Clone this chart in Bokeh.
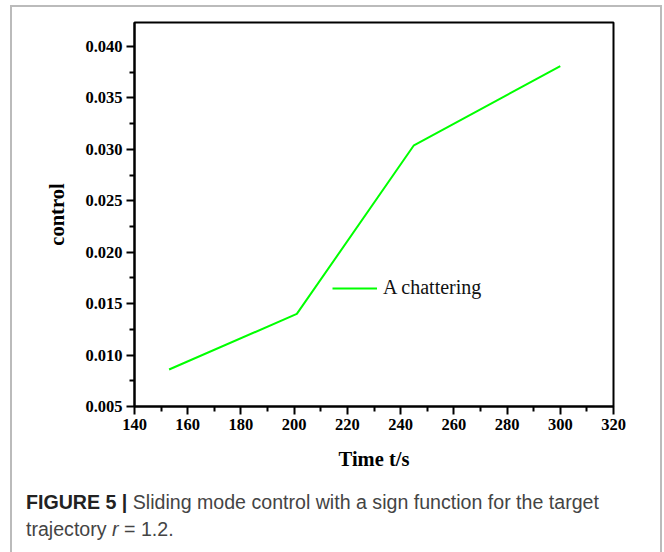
from bokeh.plotting import figure
from bokeh.models import (FixedTicker, PrintfTickFormatter, Legend, LegendItem,
                          Range1d, Div)
from bokeh.layouts import column
from bokeh.embed import file_html
from bokeh.resources import INLINE

# data
time_s = [153, 201, 245, 300]
control = [0.0086, 0.0140, 0.0304, 0.0381]
series_name = "A chattering"
x_ticks = [140, 160, 180, 200, 220, 240, 260, 280, 300, 320]
y_ticks = [0.005, 0.010, 0.015, 0.020, 0.025, 0.030, 0.035, 0.040]
caption_bold = "FIGURE 5 |"
caption_line1 = "Sliding mode control with a sign function for the target"
caption_line2 = ("trajectory", "r", "= 1.2.")

W, H_FIG, H_CAP = 664, 484, 68
p = figure(width=W, height=H_FIG, output_backend="svg", toolbar_location=None,
           x_range=Range1d(140, 320), y_range=Range1d(0.005, 0.04234),
           min_border_left=134, min_border_right=51, min_border_top=22,
           min_border_bottom=78)
p.grid.visible = False
p.background_fill_color = "white"
p.border_fill_color = None
p.outline_line_color = "black"
p.outline_line_width = 2

SERIF = "Liberation Serif"
for ax in (p.xaxis[0], p.yaxis[0]):
    ax.axis_line_color = "black"
    ax.axis_line_width = 2
    ax.major_tick_line_color = "black"
    ax.major_tick_line_width = 2
    ax.minor_tick_line_color = "black"
    ax.minor_tick_line_width = 2
    ax.major_tick_out = 8
    ax.major_tick_in = 0
    ax.minor_tick_out = 5
    ax.minor_tick_in = 0
    ax.major_label_text_font = SERIF
    ax.major_label_text_font_style = "bold"
    ax.major_label_text_font_size = "16.5px"
    ax.major_label_text_color = "black"
    ax.axis_label_text_font = SERIF
    ax.axis_label_text_font_style = "bold"
    ax.axis_label_text_font_size = "20.5px"
    ax.axis_label_text_color = "black"

p.xaxis.ticker = FixedTicker(ticks=x_ticks, minor_ticks=[v + 10 for v in x_ticks[:-1]])
p.yaxis.ticker = FixedTicker(ticks=y_ticks, minor_ticks=[v + 0.0025 for v in y_ticks])
p.yaxis.formatter = PrintfTickFormatter(format="%.3f")
p.xaxis.axis_label = "Time t/s"
p.yaxis.axis_label = "control"
p.xaxis.major_label_standoff = 4
p.yaxis.major_label_standoff = 4
p.xaxis.axis_label_standoff = 15
p.yaxis.axis_label_standoff = 14

r = p.line(time_s, control, line_color="#00FF00", line_width=2)

legend = Legend(items=[LegendItem(label=series_name, renderers=[r])],
                location=(198, 107), padding=0, margin=0,
                background_fill_alpha=0, border_line_alpha=0,
                glyph_width=45, glyph_height=20, label_standoff=6,
                label_text_font=SERIF, label_text_font_size="20px",
                label_text_color="#111111")
p.add_layout(legend, "center")

cap_html = (f'<div style="white-space:nowrap"><b style="color:#222">{caption_bold}</b> '
            f'{caption_line1}<br>{caption_line2[0]} <i>{caption_line2[1]}</i> '
            f'{caption_line2[2]}</div>')
cap = Div(text=cap_html, width=W, height=H_CAP,
          styles={"font-family": "'Liberation Sans', Arial, sans-serif",
                  "font-size": "19.6px", "line-height": "27px", "color": "#444444",
                  "padding-left": "21px", "box-sizing": "border-box"})

panel = column(p, cap, width=W, height=H_FIG + H_CAP, spacing=0,
               styles={"background-color": "white",
                       "background-image": "linear-gradient(#bbbbbb,#bbbbbb), "
                                           "linear-gradient(#bbbbbb,#bbbbbb), "
                                           "linear-gradient(#bbbbbb,#bbbbbb)",
                       "background-size": "2px 547px, 652px 2px, 2px 547px",
                       "background-position": "10px 5px, 10px 5px, 660px 5px",
                       "background-repeat": "no-repeat"})

open("out.html", "w").write(file_html(panel, INLINE))
